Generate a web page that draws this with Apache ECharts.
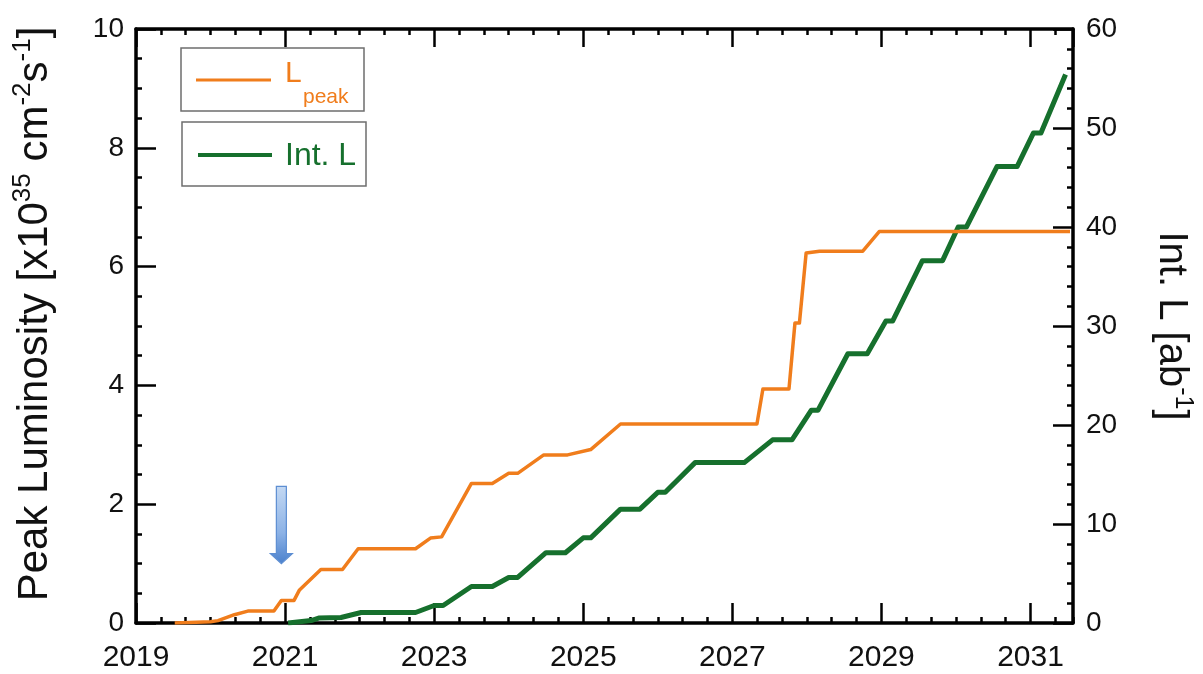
<!DOCTYPE html>
<html>
<head>
<meta charset="utf-8">
<script src="https://cdn.jsdelivr.net/npm/echarts@6/dist/echarts.min.js"></script>
<style>
  html, body { margin: 0; padding: 0; background: #ffffff; }
  #chart { width: 1203px; height: 674px; }
</style>
</head>
<body>
<div id="chart"></div>
<script>
// Peak luminosity projection (x10^35 cm^-2 s^-1), by calendar year
const peakYears = [
  2019.52, 2020.00, 2020.10, 2020.32, 2020.50, 2020.85, 2020.95, 2021.12,
  2021.19, 2021.48, 2021.77, 2021.98, 2022.75, 2022.95, 2023.10, 2023.50,
  2023.78, 2024.00, 2024.12, 2024.47, 2024.79, 2025.10, 2025.50, 2027.33,
  2027.41, 2027.76, 2027.84, 2027.90, 2027.99, 2028.17, 2028.75, 2028.97,
  2031.53
];
const peakValues = [
  0.00, 0.02, 0.04, 0.14, 0.20, 0.20, 0.38, 0.38,
  0.55, 0.90, 0.90, 1.25, 1.25, 1.43, 1.45, 2.35,
  2.35, 2.52, 2.52, 2.83, 2.83, 2.92, 3.35, 3.35,
  3.94, 3.94, 5.05, 5.05, 6.23, 6.26, 6.26, 6.59,
  6.59
];

// Integrated luminosity (ab^-1), by calendar year
const intYears = [
  2021.04, 2021.35, 2021.45, 2021.75, 2022.02, 2022.75, 2023.00, 2023.12,
  2023.50, 2023.78, 2024.00, 2024.12, 2024.50, 2024.76, 2025.00, 2025.10,
  2025.50, 2025.76, 2026.00, 2026.10, 2026.50, 2027.16, 2027.54, 2027.80,
  2028.06, 2028.15, 2028.55, 2028.81, 2029.06, 2029.15, 2029.55, 2029.82,
  2030.03, 2030.14, 2030.55, 2030.82, 2031.04, 2031.14, 2031.47
];
const intValues = [
  0.0, 0.25, 0.5, 0.56, 1.06, 1.06, 1.77, 1.77,
  3.69, 3.69, 4.6, 4.6, 7.1, 7.1, 8.6, 8.6,
  11.5, 11.5, 13.2, 13.2, 16.2, 16.2, 18.5, 18.5,
  21.5, 21.5, 27.2, 27.2, 30.5, 30.5, 36.6, 36.6,
  40.0, 40.0, 46.1, 46.1, 49.5, 49.5, 55.4
];

// Axis ranges and tick labels
const yearStart = 2019;
const yearEnd = 2031.57;
const yearLabels = ['2019', '2021', '2023', '2025', '2027', '2029', '2031'];
const peakTicks = ['0', '2', '4', '6', '8', '10'];
const intTicks = ['0', '10', '20', '30', '40', '50', '60'];

// Blue arrow marking the start of physics running
const arrowNote = { year: 2020.95, from: 2.3, to: 1.0 };

const ORANGE = '#f07d1c';
const GREEN = '#16702d';
const FONT = '"Liberation Sans", Arial, sans-serif';

// x is carried in months since the first year so that 2-year and 4-month ticks land on integers
const toMonths = y => (y - yearStart) * 12;
const xMax = toMonths(yearEnd);

const pairs = (xs, ys) => xs.map((x, i) => [toMonths(x), ys[i]]);

const axisLineStyle = { color: '#000', width: 3.5 };
const tickStyle = { color: '#000', width: 2.5 };

const xBase = {
  type: 'value', min: 0, max: xMax, gridIndex: 0,
  splitLine: { show: false }
};

const xAxes = [
  Object.assign({}, xBase, {
    position: 'bottom', interval: 24,
    axisLine: { show: true, onZero: false, lineStyle: axisLineStyle },
    axisTick: { show: true, inside: true, length: 20, lineStyle: tickStyle },
    axisLabel: {
      show: true, margin: 20, fontSize: 30, color: '#111', fontFamily: FONT,
      showMaxLabel: false,
      formatter: v => yearLabels[Math.round(v / 24)] || ''
    }
  }),
  Object.assign({}, xBase, {
    position: 'bottom', interval: 4,
    axisLine: { show: false, onZero: false },
    axisTick: { show: true, inside: true, length: 6, lineStyle: tickStyle },
    axisLabel: { show: false }
  }),
  Object.assign({}, xBase, {
    position: 'top', interval: 24,
    axisLine: { show: true, onZero: false, lineStyle: axisLineStyle },
    axisTick: { show: true, inside: true, length: 18, lineStyle: tickStyle },
    axisLabel: { show: false }
  }),
  Object.assign({}, xBase, {
    position: 'top', interval: 4,
    axisLine: { show: false, onZero: false },
    axisTick: { show: true, inside: true, length: 6, lineStyle: tickStyle },
    axisLabel: { show: false }
  })
];

const yAxes = [
  {
    type: 'value', position: 'left', min: 0, max: 10, interval: 2,
    name: '{m|Peak Luminosity [x10}{s|35}{m| cm}{s|-2}{m|s}{s|-1}{m|]}',
    nameLocation: 'middle', nameRotate: 90, nameGap: 76,
    nameTextStyle: {
      fontFamily: FONT, fontSize: 42, color: '#111',
      padding: [0, 0, 0, 24],
      rich: {
        m: { fontFamily: FONT, fontSize: 42, lineHeight: 50, color: '#111' },
        s: { fontFamily: FONT, fontSize: 26, lineHeight: 27, color: '#111', verticalAlign: 'top' }
      }
    },
    axisLine: { show: true, onZero: false, lineStyle: axisLineStyle },
    axisTick: { show: true, inside: true, length: 20, lineStyle: tickStyle },
    minorTick: { show: true, splitNumber: 4, length: 6, lineStyle: tickStyle },
    axisLabel: {
      margin: 12, fontSize: 28, color: '#111', fontFamily: FONT,
      formatter: v => peakTicks[Math.round(v / 2)] || ''
    },
    splitLine: { show: false }
  },
  {
    type: 'value', position: 'right', min: 0, max: 60, interval: 10,
    name: '{m|Int. L [ab}{s|-1}{m|]}',
    nameLocation: 'middle', nameRotate: -90, nameGap: 74,
    nameTextStyle: {
      fontFamily: FONT, fontSize: 40, color: '#111',
      rich: {
        m: { fontFamily: FONT, fontSize: 40, lineHeight: 48, color: '#111' },
        s: { fontFamily: FONT, fontSize: 25, lineHeight: 26, color: '#111', verticalAlign: 'top' }
      }
    },
    axisLine: { show: true, onZero: false, lineStyle: axisLineStyle },
    axisTick: { show: true, inside: true, length: 20, lineStyle: tickStyle },
    minorTick: { show: true, splitNumber: 5, length: 6, lineStyle: tickStyle },
    axisLabel: {
      margin: 13, fontSize: 28, color: '#111', fontFamily: FONT,
      formatter: v => intTicks[Math.round(v / 10)] || ''
    },
    splitLine: { show: false }
  }
];

// Two separate framed legend boxes
const legendGraphics = [
  {
    type: 'rect', shape: { x: 181, y: 48, width: 183, height: 63 },
    style: { fill: '#fff', stroke: '#6e6e6e', lineWidth: 1.5 }, z: 10
  },
  {
    type: 'line', shape: { x1: 196, y1: 80, x2: 271, y2: 80 },
    style: { stroke: ORANGE, lineWidth: 3 }, z: 11
  },
  {
    type: 'text', x: 285, y: 74,
    style: { text: 'L', fill: ORANGE, fontSize: 30, fontFamily: FONT, verticalAlign: 'middle', align: 'left' }, z: 11
  },
  {
    type: 'text', x: 303, y: 97,
    style: { text: 'peak', fill: ORANGE, fontSize: 21, fontFamily: FONT, verticalAlign: 'middle', align: 'left' }, z: 11
  },
  {
    type: 'rect', shape: { x: 182, y: 122, width: 184, height: 64 },
    style: { fill: '#fff', stroke: '#6e6e6e', lineWidth: 1.5 }, z: 10
  },
  {
    type: 'line', shape: { x1: 198, y1: 155, x2: 272, y2: 155 },
    style: { stroke: GREEN, lineWidth: 4 }, z: 11
  },
  {
    type: 'text', x: 285, y: 156,
    style: { text: 'Int. L', fill: GREEN, fontSize: 32, fontFamily: FONT, verticalAlign: 'middle', align: 'left' }, z: 11
  }
];

const chart = echarts.init(document.getElementById('chart'), null, { renderer: 'canvas' });

chart.setOption({
  animation: false,
  backgroundColor: '#ffffff',
  grid: { left: 136, right: 128, top: 29, bottom: 51, containLabel: false },
  xAxis: xAxes,
  yAxis: yAxes,
  series: [
    {
      name: 'Lpeak', type: 'line', xAxisIndex: 0, yAxisIndex: 0,
      data: pairs(peakYears, peakValues),
      symbol: 'none', smooth: false,
      lineStyle: { color: ORANGE, width: 3.5, join: 'round' },
      itemStyle: { color: ORANGE }, z: 3
    },
    {
      name: 'Int. L', type: 'line', xAxisIndex: 0, yAxisIndex: 1,
      data: pairs(intYears, intValues),
      symbol: 'none', smooth: false,
      lineStyle: { color: GREEN, width: 5, join: 'round' },
      itemStyle: { color: GREEN }, z: 2
    }
  ],
  graphic: legendGraphics
});

// Place the annotation arrow through the chart's own coordinate conversion
const arrowTop = chart.convertToPixel({ seriesIndex: 0 }, [toMonths(arrowNote.year), arrowNote.from]);
const arrowTip = chart.convertToPixel({ seriesIndex: 0 }, [toMonths(arrowNote.year), arrowNote.to]);
const cx = arrowTip[0];
const shaftHalf = 5, headHalf = 11, headLen = 10;
chart.setOption({
  graphic: legendGraphics.concat([{
    type: 'polygon', z: 12,
    shape: {
      points: [
        [cx - shaftHalf, arrowTop[1]], [cx + shaftHalf, arrowTop[1]],
        [cx + shaftHalf, arrowTip[1] - headLen], [cx + headHalf, arrowTip[1] - headLen],
        [cx, arrowTip[1]],
        [cx - headHalf, arrowTip[1] - headLen], [cx - shaftHalf, arrowTip[1] - headLen]
      ]
    },
    style: {
      fill: new echarts.graphic.LinearGradient(0, 0, 0, 1, [
        { offset: 0, color: '#c4d9f3' },
        { offset: 0.6, color: '#8cb2e6' },
        { offset: 1, color: '#4a80cc' }
      ]),
      stroke: '#5d8ed2', lineWidth: 1.2
    }
  }])
});
</script>
</body>
</html>
